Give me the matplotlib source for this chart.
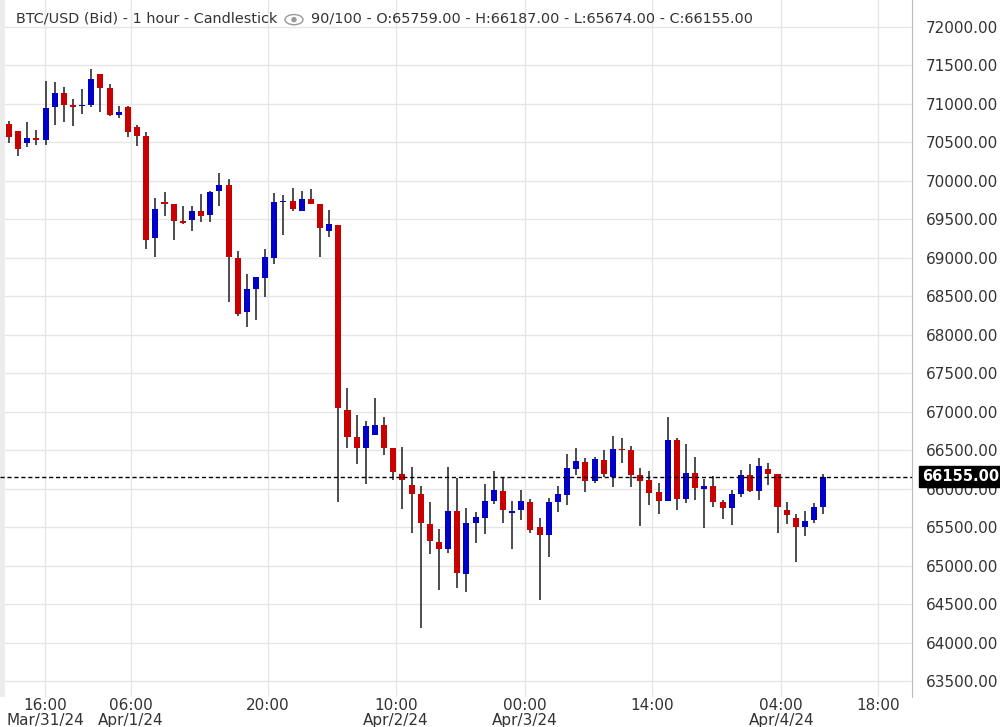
import matplotlib
matplotlib.use("Agg")
import matplotlib.pyplot as plt
from matplotlib.patches import Rectangle, Ellipse

opens = [70739,70648,70496,70557,70531,70964,71142,70986,70977,70990,71389,71207,70860,70960,70700,70583,69262,69725,69699,69478,69495,69608,69560,69872,69946,68997,
         68299,68599,68741,69001,69729,69738,69612,69764,69699,69352,69426,67021,66670,66532,66701,66826,66527,66189,66046,65929,
         65539,65305,65219,65708,64893,65556,65621,65842,65968,65686,65725,65825,65500,65400,65829,65920,66258,66345,66102,66371,66154,66514,66501,
         66176,66111,65955,65842,66631,65868,66202,65998,66033,65825,65751,65933,66176,65972,66254,66189,65721,65617,65504,65595,65759]
highs = [70778,70648,70765,70661,71298,71285,71220,71064,71194,71454,71389,71259,70973,70973,70726,70635,69777,69855,69699,69673,69673,69829,69868,70102,70024,69088,
         68789,68750,69114,69842,69816,69907,69868,69894,69699,69621,69426,67307,66956,66878,67177,66930,66527,66540,66285,66033,
         65825,65474,66280,66137,65747,65695,66059,66228,66137,65838,65981,65864,65617,65877,66033,66449,66527,66397,66410,66501,66683,66657,66553,
         66267,66228,66072,66930,66657,66579,66410,66124,66163,65851,65981,66241,66319,66397,66332,66189,65825,65669,65708,65812,66187]
lows = [70488,70327,70444,70470,70470,70730,70765,70717,70873,70964,70899,70847,70821,70574,70457,69118,69015,69548,69235,69444,69352,69470,69470,69677,68430,68248,
        68104,68195,68494,68923,69300,69612,69612,69703,69014,69274,65830,66532,66324,66064,66701,66441,66116,65739,65427,64192,
        65153,64685,65167,64712,64660,65296,65413,65803,65556,65219,65595,65426,64555,65114,65699,65790,66180,65959,66076,66154,66024,66336,66024,
        65518,65790,65673,65842,65725,65816,65855,65492,65764,65608,65530,65894,65959,65855,66050,65426,65543,65049,65387,65556,65674]
closes = [70574,70418,70557,70535,70947,71142,70990,70964,70990,71324,71211,70860,70895,70639,70587,69235,69634,69703,69482,69452,69608,69547,69855,69946,69015,68274,
          68594,68750,69010,69725,69738,69638,69764,69703,69391,69439,67052,66675,66532,66813,66826,66532,66220,66116,65934,65557,
          65322,65219,65708,64906,65552,65630,65838,65981,65725,65708,65838,65465,65400,65825,65929,66267,66358,66102,66384,66193,66514,66501,66180,
          66102,65946,65842,66631,65868,66202,66011,66033,65829,65751,65929,66176,65972,66293,66193,65764,65660,65504,65578,65760,66155]

tick_pos = [3.94, 13.34, 28.32, 42.31, 56.42, 70.31, 84.41, 95.02]
tick_labels = ["16:00\nMar/31/24", "06:00\nApr/1/24", "20:00", "10:00\nApr/2/24",
               "00:00\nApr/3/24", "14:00", "04:00\nApr/4/24", "18:00"]
y_ticks = list(range(63500, 72001, 500))
last_price = 66155

fig = plt.figure(figsize=(10, 7.27), dpi=100)
ax = fig.add_axes([0.0, 30/727, 0.912, 697/727])
ax.set_xlim(-0.98, 98.7)
ax.set_ylim(63292, 72351)

for i, (o, h, l, c) in enumerate(zip(opens, highs, lows, closes)):
    col = "#0000c8" if c >= o else "#c80000"
    ax.vlines(i, l, h, color="#2b3030", lw=1.2, zorder=2)
    bot, top = min(o, c), max(o, c)
    ax.add_patch(Rectangle((i - 0.33, bot), 0.66, max(top - bot, 15), color=col, lw=0, zorder=3))

ax.set_yticks(y_ticks)
ax.set_yticklabels([f"{v:.2f}" for v in y_ticks])
ax.yaxis.tick_right()
ax.set_xticks(tick_pos)
ax.set_xticklabels(tick_labels, linespacing=1.0)
ax.tick_params(axis="both", length=0, labelsize=11, colors="#333333")
ax.tick_params(axis="x", pad=1)
ax.tick_params(axis="y", pad=10)
ax.grid(True, color="#e6e6e6", lw=1, zorder=0)
ax.set_axisbelow(True)
for s in ["top", "left", "bottom"]:
    ax.spines[s].set_visible(False)
ax.spines["right"].set_color("#bbbbbb")

ax.axhline(last_price, color="black", ls=(0, (3, 2)), lw=1, zorder=4)
ax.text(1.011, last_price, f"{last_price:.2f}", transform=ax.get_yaxis_transform(),
        ha="left", va="center", color="white", fontsize=10.5, fontweight="bold",
        bbox=dict(boxstyle="square,pad=0.2", fc="black", ec="black"), clip_on=False, zorder=5)

ax.add_patch(Rectangle((0, 0), 0.006, 1, transform=ax.transAxes, color="#ececec", lw=0, zorder=1))

fig.text(0.016, 0.975, "BTC/USD (Bid) - 1 hour - Candlestick",
         ha="left", va="center", fontsize=10.4, color="#333333")
fig.text(0.311, 0.975, f"90/100 - O:{opens[-1]:.2f} - H:{highs[-1]:.2f} - L:{lows[-1]:.2f} - C:{closes[-1]:.2f}",
         ha="left", va="center", fontsize=10.4, color="#333333")
# eye icon drawn as a shape
fig.add_artist(Ellipse((0.294, 0.973), 0.018, 0.014, fill=False, ec="#999999", lw=1, transform=fig.transFigure))
fig.add_artist(Ellipse((0.294, 0.973), 0.0055, 0.0075, fc="#999999", ec="none", transform=fig.transFigure))

fig.savefig("out.png", dpi=100)
